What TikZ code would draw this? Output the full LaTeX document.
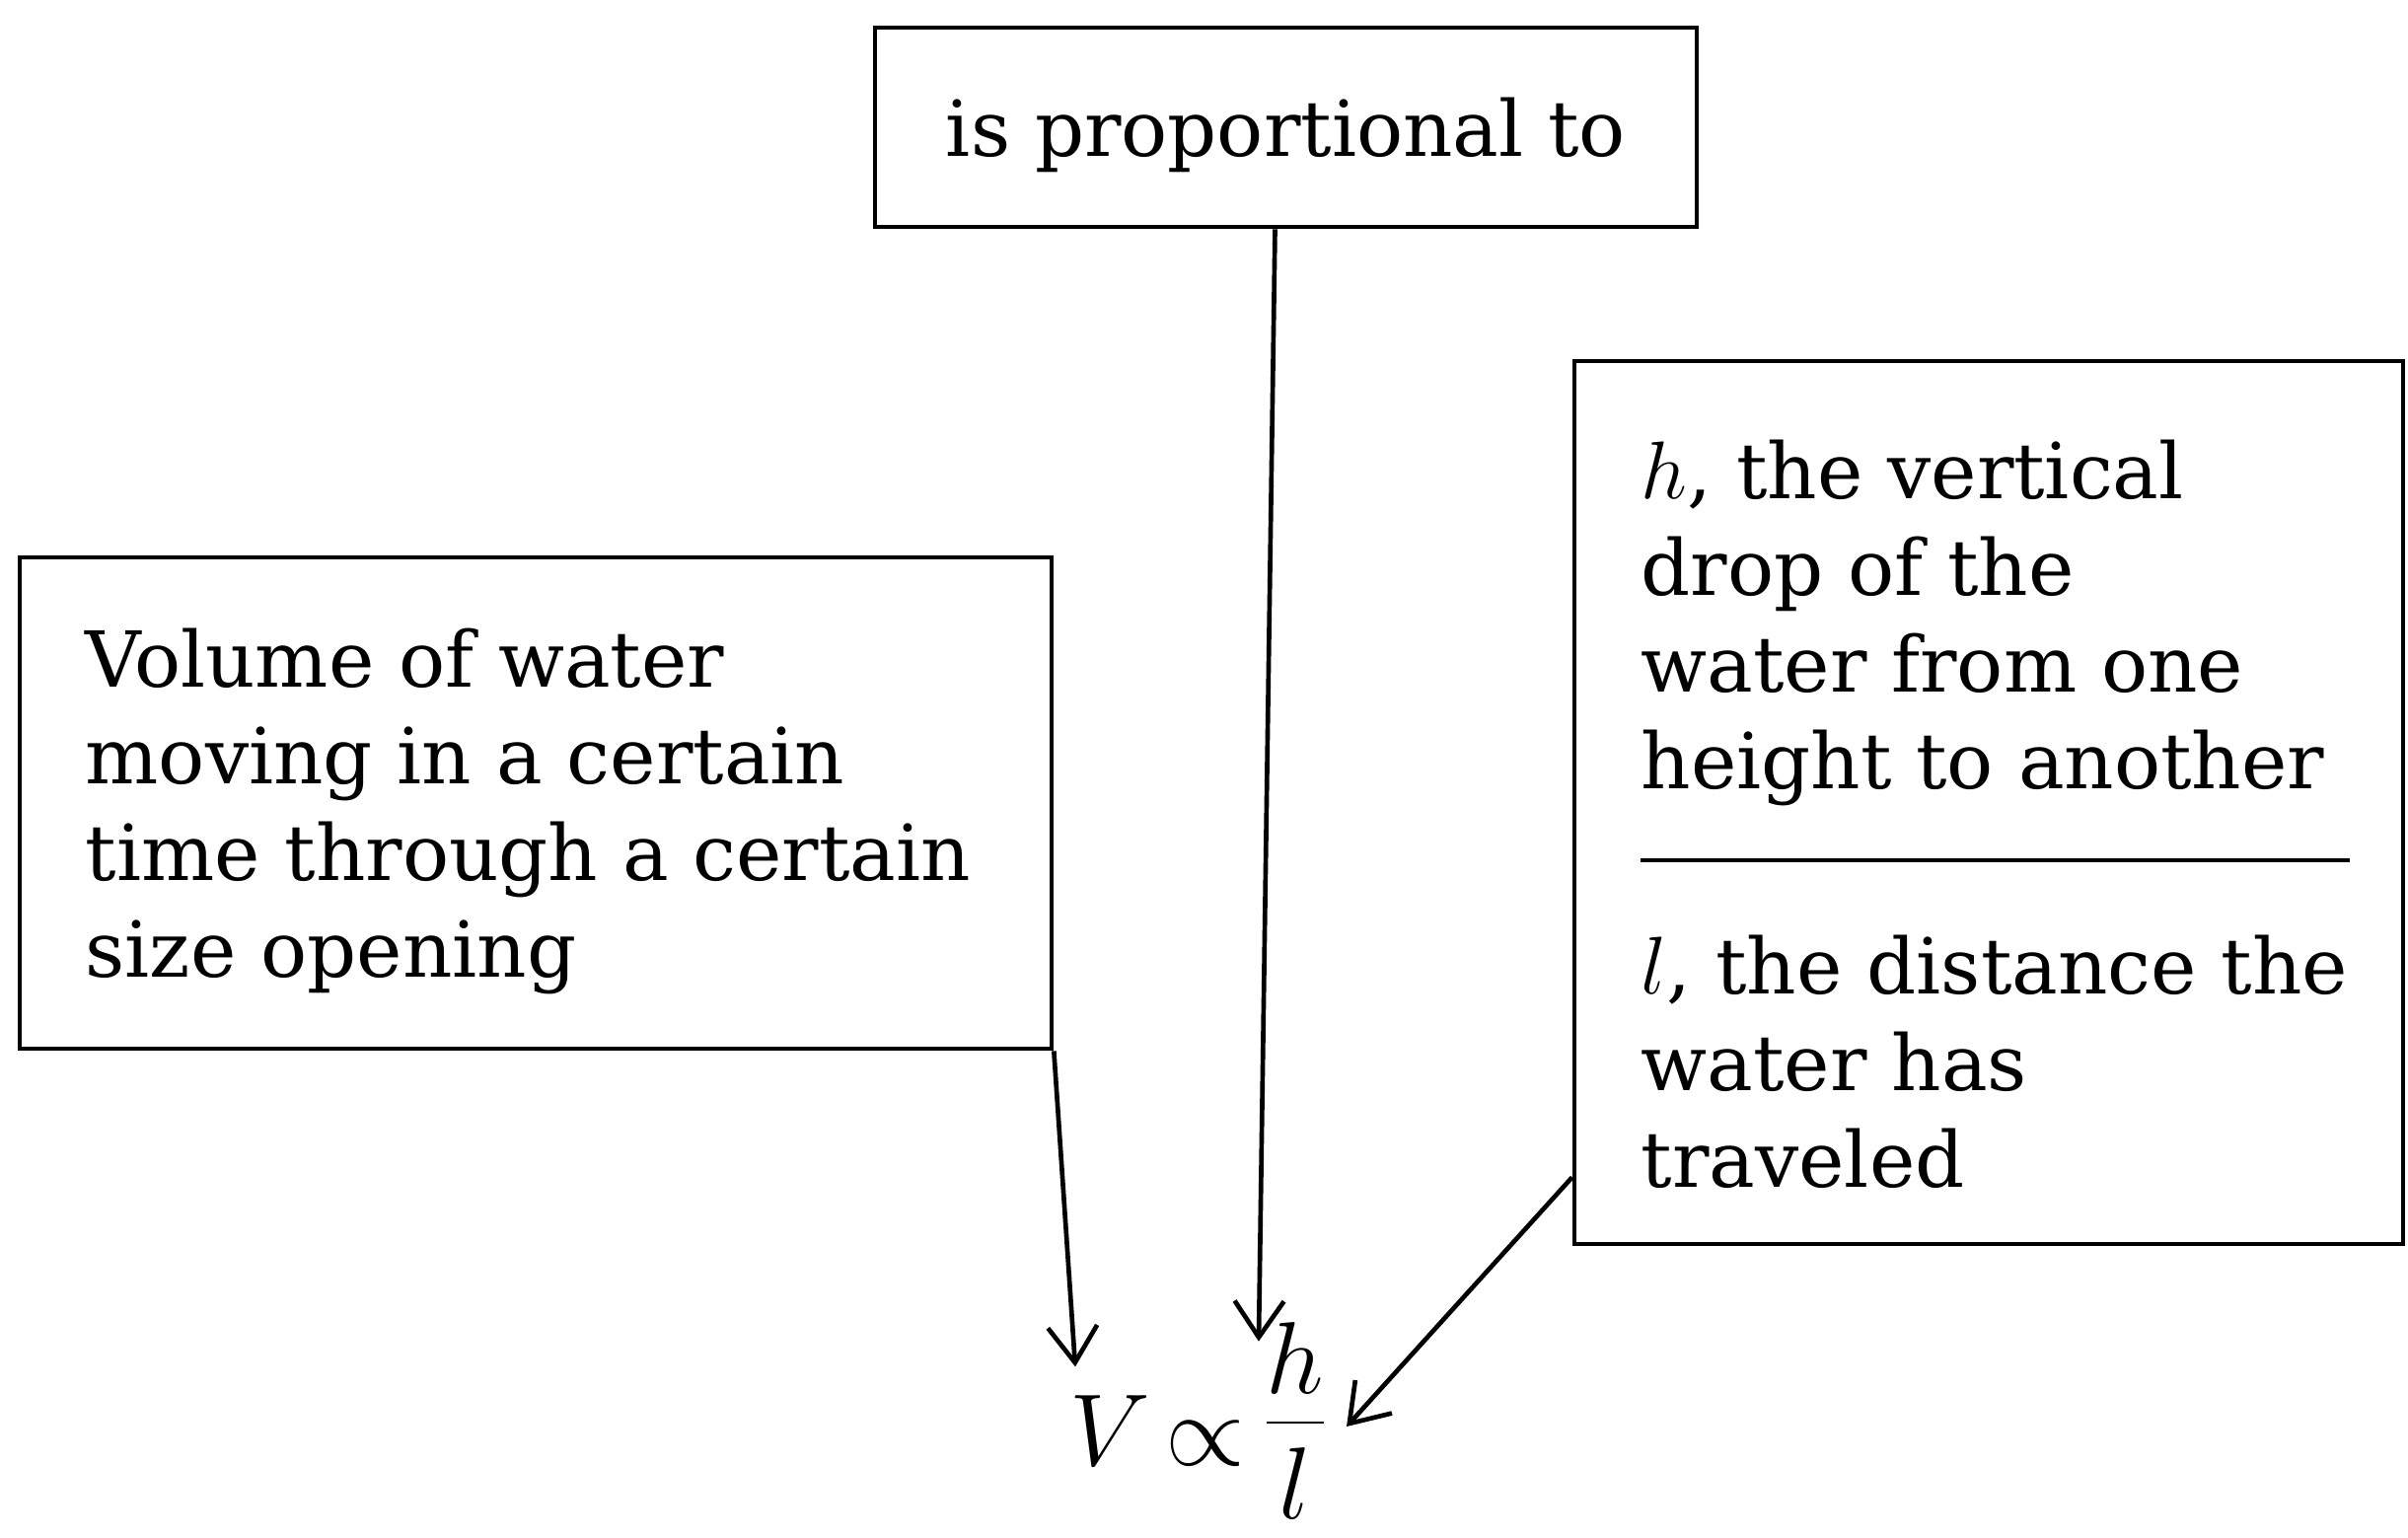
\documentclass[tikz,border=0pt]{standalone}
\usepackage{fontspec}
\setmainfont{DejaVu Serif}
\usetikzlibrary{arrows.meta,calc}
\begin{document}
\begin{tikzpicture}[x=0.3pt,y=-0.3pt,
  box/.style={draw, line width=1.4pt, rectangle, inner sep=0pt},
  txt/.style={inner sep=0pt, align=left, anchor=north west, font=\fontsize{23.5}{29.4}\selectfont},
  frm/.style={inner sep=0pt, anchor=base, scale=1.25, font=\fontsize{24}{29}\selectfont},
  conn/.style={line width=1.4pt, -{Straight Barb[length=11pt,width=15pt]}}]
\useasboundingbox (0,0) rectangle (2441,1558);
% boxes
\node[box, minimum width=249.9pt, minimum height=60.6pt] (top) at (1303.5,129) {};
\node[box, minimum width=313.8pt, minimum height=149.4pt] (lbox) at (543,814) {};
\node[box, minimum width=252pt, minimum height=268.5pt] (rbox) at (2016,813.5) {};
% texts
\node[inner sep=0pt, font=\fontsize{23.5}{29.4}\selectfont] (ttext) at (1303.5,137) {is proportional to};
\node[txt] (ltext) at (86,636) {Volume of water\\moving in a certain\\time through a certain\\size opening};
\node[txt] (rtop) at (1663,445) {$h$, the vertical\\drop of the\\water from one\\height to another};
\node[txt] (rbot) at (1663,947) {$l$, the distance the\\water has\\traveled};
\draw[line width=1.4pt] (1663,872) -- (2382,872);
% formula
\node[frm] (V) at (1125,1485) {$V$};
\node[frm] (prop) at (1222,1485) {$\propto$};
\node[frm] (frac) at (1313,1468) {$\displaystyle\frac{\raisebox{-3.5pt}{$h$}}{l}$};
% connectors
\draw[conn] (lbox.south east) -- ($(V.north)+(-35,-28)$);
\draw[conn] ($(top.south)+(-11,0)$) -- ($(frac.north west)+(-2,20)$);
\draw[conn] ($(rbox.south west)+(0,-70)$) -- ($(frac.base east)+(17,-22)$);
\end{tikzpicture}
\end{document}
